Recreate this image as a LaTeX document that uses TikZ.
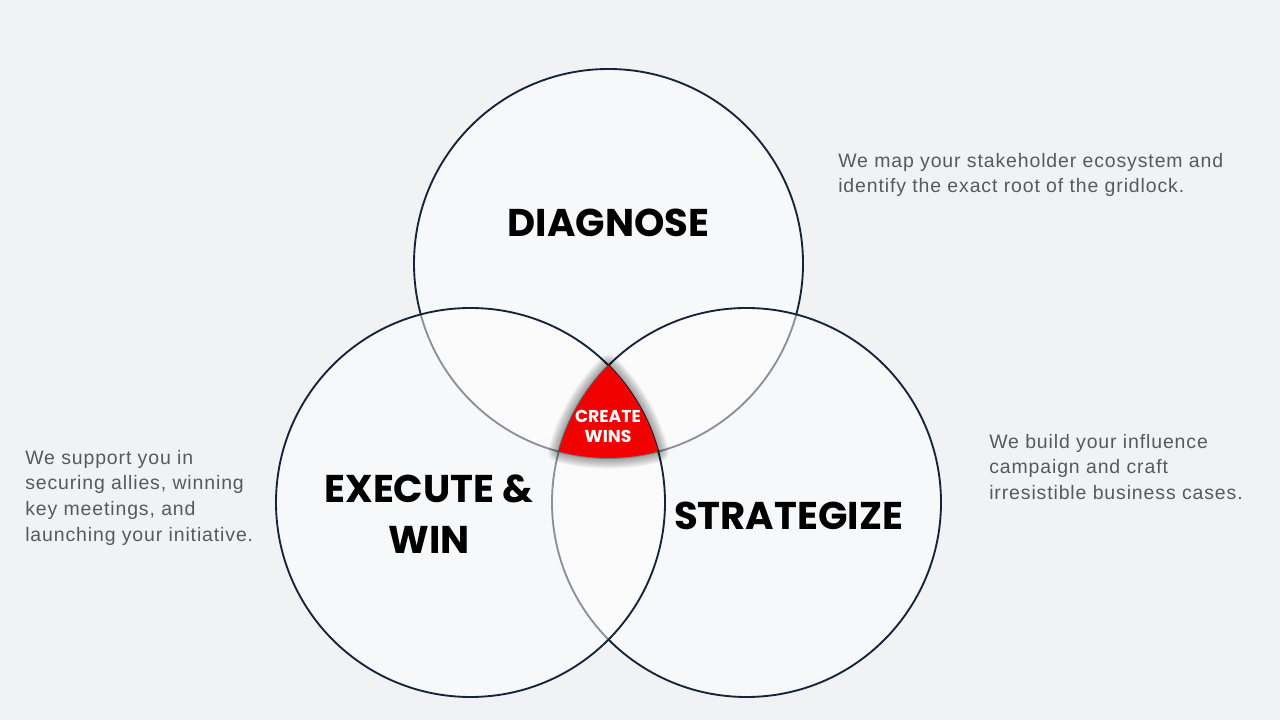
\documentclass[tikz,border=0pt]{standalone}
\usepackage{fontspec}
\setmainfont{Liberation Sans}
\newfontfamily\pop{Poppins}
\newfontfamily\descfont{Liberation Sans}[LetterSpace=4.5]
\usetikzlibrary{calc}
\definecolor{bgc}{HTML}{F0F2F4}
\definecolor{navy}{HTML}{15243A}
\definecolor{redc}{HTML}{F20000}
\definecolor{txt}{HTML}{58595B}
\begin{document}
\begin{tikzpicture}[x=0.75pt,y=0.75pt,
  circ/.style={fill=white, fill opacity=0.5, draw=navy, draw opacity=1, line width=1.4pt},
  head/.style={font=\pop\bfseries\fontsize{29pt}{38.25pt}\selectfont, text=black, align=center, inner sep=0pt},
  desc/.style={font=\descfont\fontsize{14.6pt}{19.2pt}\selectfont, text=txt, align=left, anchor=north west, inner sep=0pt}]
\def\R{145.875pt}
\useasboundingbox (0,0) rectangle (1280,720);
\fill[bgc] (0,0) rectangle (1280,720);
% centres
\coordinate (A) at (608.5,456.5);
\coordinate (B) at (470.5,217.5);
\coordinate (C) at (746.5,217.5);
% circles
\draw[circ] (A) circle[radius=\R];
\draw[circ] (C) circle[radius=\R];
\draw[circ] (B) circle[radius=\R];
% central region
\coordinate (PA) at ($(C)+(135.2:\R)$);
\def\redpath{(PA) arc[start angle=135.2, end angle=164.81, radius=\R] arc[start angle=255.19, end angle=284.81, radius=\R] arc[start angle=15.19, end angle=44.8, radius=\R] -- cycle}
\foreach \w in {2,4,...,16}{
  \draw[black, opacity=0.05, line width=\w pt, line join=round] \redpath;
}
\fill[redc] \redpath;
\node[font=\pop\bfseries\fontsize{12.9pt}{15pt}\selectfont, text=white, align=center, inner sep=0pt] (core) at (608,294) {CREATE\\WINS};
% headings
\node[head] (diag) at (608.5,497) {DIAGNOSE};
\node[head] (exec) at (429,206) {EXECUTE \&\\WIN};
\node[head] (strat) at (788.5,204) {STRATEGIZE};
% descriptions
\node[desc] (d1) at (838,567) {We map your stakeholder ecosystem and\\identify the exact root of the gridlock.};
\node[desc] (d2) at (25,270) {We support you in\\securing allies, winning\\key meetings, and\\launching your initiative.};
\node[desc] (d3) at (989,286) {We build your influence\\campaign and craft\\irresistible business cases.};
\end{tikzpicture}
\end{document}
